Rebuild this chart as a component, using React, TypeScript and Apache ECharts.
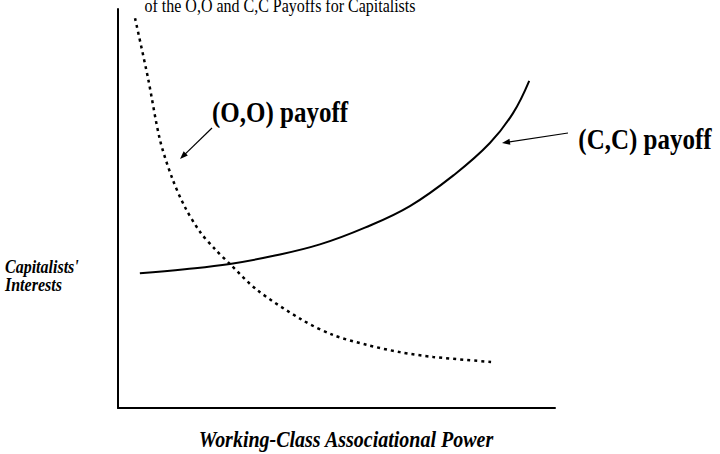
import React, { useEffect, useRef } from "react";
import * as echarts from "echarts";

// (O,O) payoff – dotted, falling curve  [x, y] in 0..100 units
const ooX = [3.9, 6.9, 9.6, 12.4, 15.3, 18.8, 22.2, 25.6, 31.8, 42.1, 49.2, 57.0, 64.5, 72.1, 85.8];
const ooY = [97.7, 82.5, 67.2, 57.6, 50.4, 44.1, 39.8, 36.1, 29.6, 22.1, 18.3, 15.8, 14.0, 12.8, 11.5];
// (C,C) payoff – solid, rising curve
const ccX = [5.0, 15.3, 25.6, 35.9, 46.2, 56.5, 66.8, 77.1, 85.1, 90.4, 94.1];
const ccY = [33.8, 34.8, 36.1, 38.2, 41.0, 45.2, 50.6, 58.6, 66.4, 73.9, 82.0];

const titleText = "of the O,O and C,C Payoffs for Capitalists";
const ooLabel = "(O,O) payoff";
const ccLabel = "(C,C) payoff";
const yLabelLines = ["Capitalists'", "Interests"];
const xLabel = "Working-Class Associational Power";

const FONT = "Liberation Serif";

function arrow(x1: number, y1: number, x2: number, y2: number) {
  const dx = x2 - x1;
  const dy = y2 - y1;
  const len = Math.sqrt(dx * dx + dy * dy);
  const ux = dx / len;
  const uy = dy / len;
  const L = 8;
  const W = 3;
  const bx = x2 - ux * L;
  const by = y2 - uy * L;
  const px = -uy;
  const py = ux;
  return {
    type: "group",
    children: [
      {
        type: "line",
        shape: { x1, y1, x2: bx + ux * 2, y2: by + uy * 2 },
        style: { stroke: "#000", lineWidth: 1.2 },
      },
      {
        type: "polygon",
        shape: {
          points: [
            [x2, y2],
            [bx + px * W, by + py * W],
            [bx - px * W, by - py * W],
          ],
        },
        style: { fill: "#000" },
      },
    ],
  };
}

export default function App() {
  const ref = useRef<HTMLDivElement>(null);
  useEffect(() => {
    if (!ref.current) return;
    const chart = echarts.init(ref.current, null, { renderer: "svg" });
    const textEl = (
      text: string,
      x: number,
      y: number,
      size: number,
      weight: string,
      style: string,
      align: string,
      sy: number
    ) => ({
      type: "text",
      x,
      y,
      scaleY: sy,
      style: {
        text,
        x: 0,
        y: 0,
        fill: "#000",
        fontFamily: FONT,
        fontSize: size,
        fontWeight: weight,
        fontStyle: style,
        textAlign: align,
        textVerticalAlign: "middle",
      },
    });
    chart.setOption({
      animation: false,
      backgroundColor: "#fff",
      grid: { left: 118, right: 165, top: 9, bottom: 46 },
      xAxis: {
        type: "value",
        min: 0,
        max: 100,
        axisLine: { show: true, lineStyle: { color: "#000", width: 2 } },
        axisTick: { show: false },
        axisLabel: { show: false },
        splitLine: { show: false },
      },
      yAxis: {
        type: "value",
        min: 0,
        max: 100,
        axisLine: { show: true, onZero: false, lineStyle: { color: "#000", width: 2 } },
        axisTick: { show: false },
        axisLabel: { show: false },
        splitLine: { show: false },
      },
      series: [
        {
          type: "line",
          name: "(O,O)",
          data: ooX.map((x, i) => [x, ooY[i]]),
          smooth: 0.3,
          symbol: "none",
          lineStyle: { color: "#000", width: 2.5, type: [3, 4] },
        },
        {
          type: "line",
          name: "(C,C)",
          data: ccX.map((x, i) => [x, ccY[i]]),
          smooth: 0.4,
          symbol: "none",
          lineStyle: { color: "#000", width: 2 },
        },
      ],
      graphic: [
        textEl(titleText, 280, 5, 16, "normal", "normal", "center", 1.2),
        textEl(ooLabel, 280, 112, 25, "bold", "normal", "center", 1.15),
        textEl(ccLabel, 645, 139, 25, "bold", "normal", "center", 1.15),
        textEl(yLabelLines[0], 5, 267, 16, "bold", "italic", "left", 1.15),
        textEl(yLabelLines[1], 5, 285, 16, "bold", "italic", "left", 1.15),
        textEl(xLabel, 346, 439, 20, "bold", "italic", "center", 1.2),
        arrow(212, 128, 180, 159),
        arrow(568, 133, 502, 143),
      ],
    });
    return () => chart.dispose();
  }, []);
  return (
    <div
      ref={ref}
      style={{ position: "fixed", left: 0, top: 0, width: 720, height: 454 }}
    />
  );
}
